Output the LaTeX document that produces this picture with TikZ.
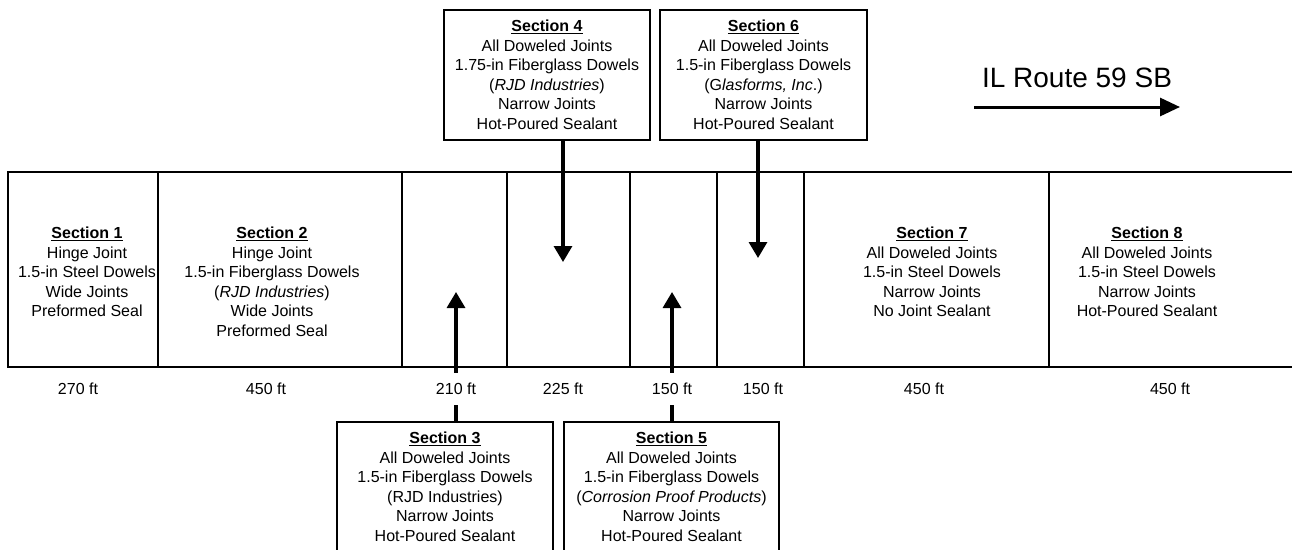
\documentclass[tikz,border=0pt]{standalone}
\usepackage{fontspec}
\setmainfont{Liberation Sans}
\usetikzlibrary{arrows.meta}

\newcommand{\sectitle}[1]{\underline{\textbf{Section #1}}}

\begin{document}
\begin{tikzpicture}[x=1pt, y=-1pt,
    every node/.style={font=\fontsize{16}{19.5}\selectfont},
    stripline/.style={line width=2pt},
    sectext/.style={align=center, anchor=north, inner sep=0pt},
    secbox/.style={draw, line width=1.4pt, align=center, minimum height=130pt, inner sep=0pt},
    lenlabel/.style={fill=white, inner xsep=4pt, inner ysep=10.5pt},
    callout/.style={line width=3.2pt, -{Triangle[length=16pt, width=18pt]}}]
  \useasboundingbox (0,0) rectangle (1292,549);

  % the pavement strip
  \draw[stripline] (1292,172) -- (8,172) -- (8,367) -- (1292,367);
  \foreach \x in {158,402,507,630,717,804,1049}
    \draw[stripline] (\x,172) -- (\x,367);

  % sections described inside the strip
  \node[sectext] (s1) at (87,227) {\sectitle{1}\\Hinge Joint\\1.5-in Steel Dowels\\Wide Joints\\Preformed Seal};
  \node[sectext] (s2) at (272,227) {\sectitle{2}\\Hinge Joint\\1.5-in Fiberglass Dowels\\(\textit{RJD Industries})\\Wide Joints\\Preformed Seal};
  \node[sectext] (s7) at (932,227) {\sectitle{7}\\All Doweled Joints\\1.5-in Steel Dowels\\Narrow Joints\\No Joint Sealant};
  \node[sectext] (s8) at (1147,227) {\sectitle{8}\\All Doweled Joints\\1.5-in Steel Dowels\\Narrow Joints\\Hot-Poured Sealant};

  % call-out boxes
  \node[secbox, minimum width=206pt] (sec4) at (547,75) {\sectitle{4}\\All Doweled Joints\\1.75-in Fiberglass Dowels\\(\textit{RJD Industries})\\Narrow Joints\\Hot-Poured Sealant};
  \node[secbox, minimum width=207pt] (sec6) at (763.5,75) {\sectitle{6}\\All Doweled Joints\\1.5-in Fiberglass Dowels\\(G\textit{lasforms, Inc}.)\\Narrow Joints\\Hot-Poured Sealant};
  \node[secbox, minimum width=216pt] (sec3) at (445,487) {\sectitle{3}\\All Doweled Joints\\1.5-in Fiberglass Dowels\\(RJD Industries)\\Narrow Joints\\Hot-Poured Sealant};
  \node[secbox, minimum width=215pt] (sec5) at (671.5,487) {\sectitle{5}\\All Doweled Joints\\1.5-in Fiberglass Dowels\\(\textit{Corrosion Proof Products})\\Narrow Joints\\Hot-Poured Sealant};

  \coordinate (t3) at (456,292);
  \coordinate (t4) at (563,262);
  \coordinate (t5) at (672,292);
  \coordinate (t6) at (758,258);
  \draw[callout] (sec4.south -| t4) -- (t4);
  \draw[callout] (sec6.south -| t6) -- (t6);
  \draw[callout] (sec3.north -| t3) -- (t3);
  \draw[callout] (sec5.north -| t5) -- (t5);

  % section lengths
  \node[lenlabel] (l1) at (78,389) {270 ft};
  \node[lenlabel] (l2) at (266,389) {450 ft};
  \node[lenlabel] (l3) at (456,389) {210 ft};
  \node[lenlabel] (l4) at (563,389) {225 ft};
  \node[lenlabel] (l5) at (672,389) {150 ft};
  \node[lenlabel] (l6) at (763,389) {150 ft};
  \node[lenlabel] (l7) at (924,389) {450 ft};
  \node[lenlabel] (l8) at (1170,389) {450 ft};

  % direction of travel
  \node[font=\fontsize{28}{32}\selectfont] (route) at (1077,78) {IL Route 59 SB};
  \coordinate (r0) at (974,107);
  \coordinate (r1) at (1180,107);
  \draw[line width=3pt, -{Triangle[length=20pt, width=18pt]}] (r0) -- (r1);
\end{tikzpicture}
\end{document}
